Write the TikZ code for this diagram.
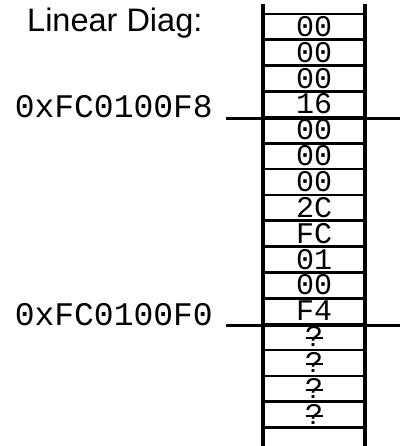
\documentclass[tikz,border=0pt]{standalone}
\usepackage{fontspec}
\setmainfont{Liberation Sans}
\newfontfamily\memfont{Liberation Mono}
% question mark with a short stroke across its stem
\newcommand\qstroke{\makebox[0pt][c]{?}\makebox[0pt][c]{\raisebox{7.5pt}{\rule{17pt}{1.8pt}}}}
\tikzset{
  cell/.style={draw, line width=2.8pt, minimum width=102pt, minimum height=25.85pt,
    inner sep=0pt, text height=19pt, text depth=0pt,
    font=\memfont\fontsize{30}{30}\selectfont},
  addr/.style={anchor=base east, inner sep=0pt,
    font=\memfont\fontsize{33}{33}\selectfont},
  rail/.style={line width=3.4pt},
  addrline/.style={line width=3pt}
}
\begin{document}
\begin{tikzpicture}[x=1pt,y=-1pt]
\useasboundingbox (0,0) rectangle (405,446);
\node[anchor=base west, inner sep=0pt, font=\fontsize{32.5}{32.5}\selectfont] (title) at (27,32) {Linear Diag:};
% memory cells, top to bottom
\foreach \v [count=\i] in {00,00,00,16,00,00,00,2C,FC,01,00,F4,\qstroke,\qstroke,\qstroke,\qstroke}{
  \node[cell] (c\i) at (314,{14+25.85*(\i-0.5)}) {\v};
}
% column sides
\coordinate (tl) at (263,4);
\coordinate (tr) at (365,4);
\coordinate (bl) at (263,446);
\coordinate (br) at (365,446);
\draw[rail] (tl) -- (bl);
\draw[rail] (tr) -- (br);
% address labels and their marker lines
\node[addr] (a8) at (213,118) {0xFC0100F8};
\node[addr] (a0) at (213,325) {0xFC0100F0};
\coordinate (m8) at (400,0);
\draw[addrline] ([xshift=13pt]a8.base east |- c4.south) -- (m8 |- c4.south);
\draw[addrline] ([xshift=13pt]a0.base east |- c12.south) -- (m8 |- c12.south);
\end{tikzpicture}
\end{document}
